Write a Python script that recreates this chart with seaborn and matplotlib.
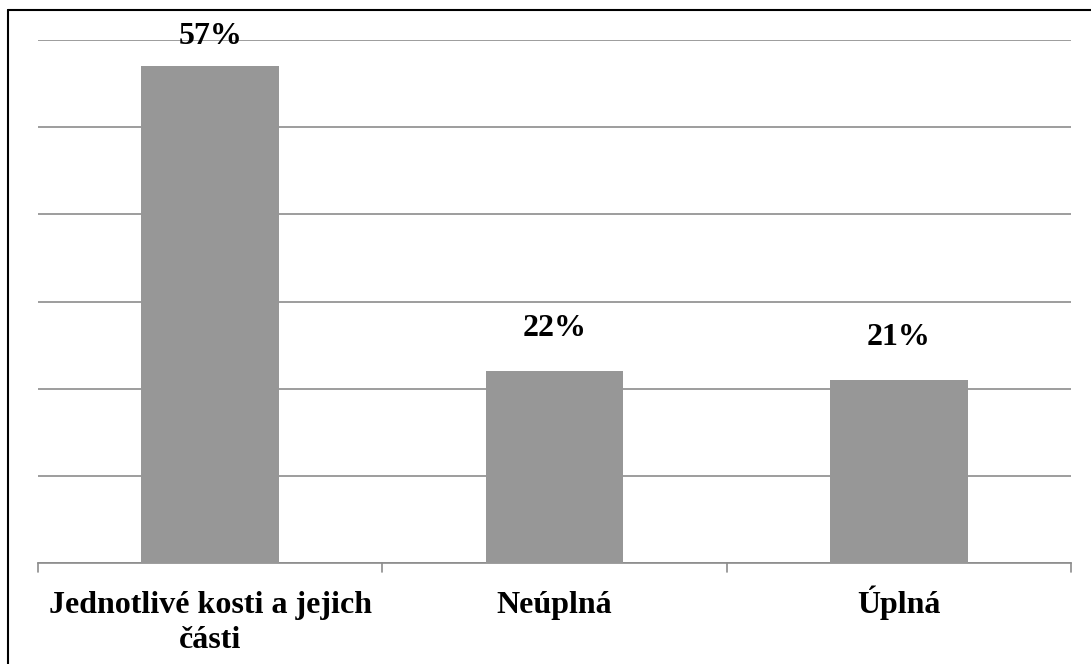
import matplotlib
matplotlib.use("Agg")
import matplotlib.pyplot as plt
import seaborn as sns
import pandas as pd
from matplotlib.lines import Line2D

categories = ["Jednotlivé kosti a jejich\nčásti", "Neúplná", "Úplná"]
values = [57, 22, 21]
value_labels = ["57%", "22%", "21%"]

sns.set_style("white")
plt.rcParams["font.family"] = ["Liberation Serif", "DejaVu Serif"]
plt.rcParams["font.weight"] = "bold"
plt.rcParams["text.color"] = "black"

df = pd.DataFrame({"category": categories, "value": values})

fig = plt.figure(figsize=(10.91, 6.64), dpi=100)
ax = fig.add_axes([38 / 1091, 1 - 563 / 664, (1071 - 38) / 1091, (563 - 40) / 664])

sns.barplot(data=df, x="category", y="value", color="#979797", width=0.4,
            saturation=1, linewidth=0, edgecolor="none", ax=ax, zorder=3)

ax.set_ylim(0, 60)
ax.set_xlim(-0.5, 2.5)
ax.set_yticks(range(0, 61, 10))
ax.yaxis.grid(True, color="#8c8c8c", linewidth=1.2, zorder=0)
ax.tick_params(axis="y", left=False, labelleft=False)
ax.set_xticks([0, 1, 2])
ax.set_xticklabels([])
ax.tick_params(axis="x", bottom=False)
for b in [-0.5, 0.5, 1.5, 2.5]:
    ax.plot([b, b], [0, -1.0], color="#8c8c8c", lw=1.2, clip_on=False, zorder=4)
ax.set_xlabel("")
ax.set_ylabel("")
for s in ["top", "right", "left"]:
    ax.spines[s].set_visible(False)
ax.spines["bottom"].set_color("#8c8c8c")
ax.spines["bottom"].set_linewidth(1.2)

# category labels, one baseline per line
for i, cat in enumerate(categories):
    for j, line in enumerate(cat.split("\n")):
        ax.annotate(line, (i, 0), xytext=(0, -36 - 25.2 * j), textcoords="offset points",
                    ha="center", va="baseline", fontsize=23, fontweight="bold",
                    color="black", annotation_clip=False)

# value labels above bars (kept inside the plot at the top)
for i, (v, lab) in enumerate(zip(values, value_labels)):
    ax.text(i, min(v + 4.0, 59.5), lab, ha="center", va="baseline",
            fontsize=23, fontweight="bold", color="black", zorder=5)

# outer frame (top and left edges visible)
fig.add_artist(Line2D([8 / 1091, 8 / 1091], [0, 1 - 10 / 664], color="black", lw=1.5,
                      transform=fig.transFigure))
fig.add_artist(Line2D([8 / 1091, 1], [1 - 10 / 664, 1 - 10 / 664], color="black", lw=1.5,
                      transform=fig.transFigure))

fig.savefig("out.png", dpi=100)
plt.close(fig)
